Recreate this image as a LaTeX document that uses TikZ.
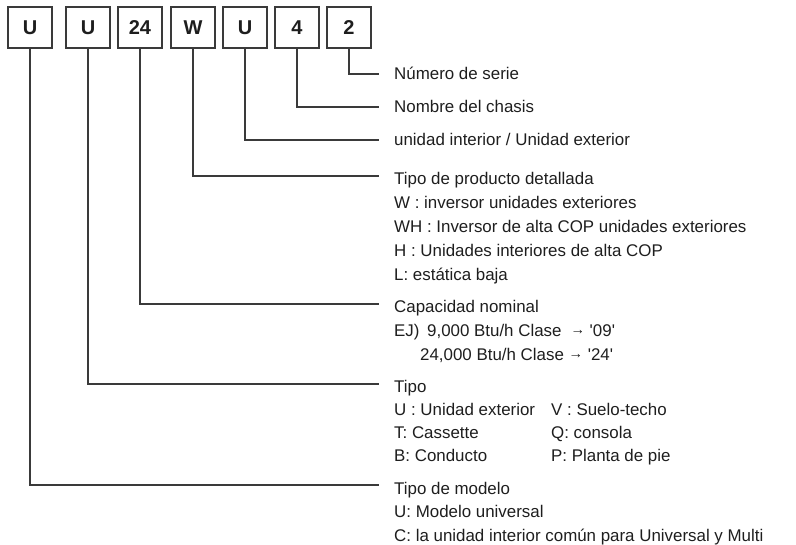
\documentclass[tikz,border=0pt]{standalone}
\usepackage{fontspec}
\setmainfont{Liberation Sans}[Ligatures=TeXOff]
\definecolor{linec}{HTML}{3A3A3A}
\definecolor{txt}{HTML}{1E1E1E}
\newcommand{\smallarrow}{\raisebox{2pt}{\fontsize{14.5}{15}\selectfont →}}
\begin{document}
\begin{tikzpicture}[x=1pt,y=-1pt,
  codebox/.style={draw=linec, line width=1.2pt, minimum width=44pt, minimum height=41pt, inner sep=0pt,
    font=\fontsize{20}{24}\selectfont\bfseries, text=txt},
  lbl/.style={anchor=base west, inner sep=0pt, font=\fontsize{16.9}{20}\selectfont, text=txt},
  conn/.style={draw=linec, line width=1.2pt}]
\useasboundingbox (0,0) rectangle (796,545);

% code boxes
\node[codebox] (b1) at (30,27.5)  {U};
\node[codebox] (b2) at (88,27.5)  {U};
\node[codebox] (b3) at (140,27.5) {24};
\node[codebox] (b4) at (193,27.5) {W};
\node[codebox] (b5) at (245,27.5) {U};
\node[codebox] (b6) at (297,27.5) {4};
\node[codebox] (b7) at (349,27.5) {2};

% line ends
\coordinate (e7) at (379,74);
\coordinate (e6) at (379,107);
\coordinate (e5) at (379,140);
\coordinate (e4) at (379,176);
\coordinate (e3) at (379,304);
\coordinate (e2) at (379,384);
\coordinate (e1) at (379,485);

\draw[conn] (b7.south) |- (e7);
\draw[conn] (b6.south) |- (e6);
\draw[conn] (b5.south) |- (e5);
\draw[conn] (b4.south) |- (e4);
\draw[conn] (b3.south) |- (e3);
\draw[conn] (b2.south) |- (e2);
\draw[conn] (b1.south) |- (e1);

% labels
\node[lbl] (t7) at (394,80) {Número de serie};
\node[lbl] (t6) at (394,113) {Nombre del chasis};
\node[lbl] (t5) at (394,146) {unidad interior / Unidad exterior};

\node[lbl] (t4) at (394,185) {Tipo de producto detallada};
\node[lbl] (t4a) at (394,209) {W : inversor unidades exteriores};
\node[lbl] (t4b) at (394,233) {WH : Inversor de alta COP unidades exteriores};
\node[lbl] (t4c) at (394,257) {H : Unidades interiores de alta COP};
\node[lbl] (t4d) at (394,281) {L: estática baja};

\node[lbl] (t3) at (394,313) {Capacidad nominal};
\node[lbl] (t3a) at (394,337) {\makebox[33pt][l]{EJ)}9,000 Btu/h Clase\hspace{9pt}\smallarrow\ '09'};
\node[lbl] (t3b) at (394,361) {\hspace*{26pt}24,000 Btu/h Clase \smallarrow\ '24'};

\node[lbl] (t2) at (394,393) {Tipo};
\node[lbl] (t2a) at (394,416) {U : Unidad exterior};
\node[lbl] (t2b) at (394,439) {T: Cassette};
\node[lbl] (t2c) at (394,462) {B: Conducto};
\node[lbl] (t2d) at (551,416) {V : Suelo-techo};
\node[lbl] (t2e) at (551,439) {Q: consola};
\node[lbl] (t2f) at (551,462) {P: Planta de pie};

\node[lbl] (t1) at (394,494) {Tipo de modelo};
\node[lbl] (t1a) at (394,518) {U: Modelo universal};
\node[lbl] (t1b) at (394,541) {C: la unidad interior común para Universal y Multi};
\end{tikzpicture}
\end{document}
